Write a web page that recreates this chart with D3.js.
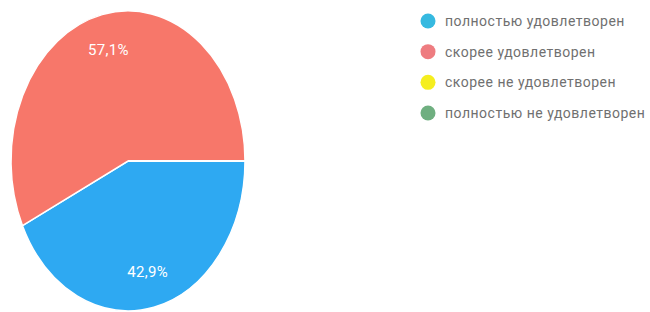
<!DOCTYPE html>
<html><head><meta charset="utf-8">
<script src="https://cdn.jsdelivr.net/npm/d3@7"></script>
<style>body{margin:0;background:#fff;}svg{display:block;}</style>
</head><body>
<svg id="c" width="650" height="312"></svg>
<script>
const categories = ["полностью удовлетворен","скорее удовлетворен","скорее не удовлетворен","полностью не удовлетворен"];
const values = [42.9, 57.1, 0, 0];
const labels = ["42,9%","57,1%","",""];
const colors = ["#2EA9F2","#F7776A","#F5EE1F","#6FAF80"];
const legendColors = ["#36B9E0","#EE7C80","#F5EE1F","#6FAF80"];

const svg = d3.select("#c");
const cx = 128, cy = 161, rx = 117, ry = 150;
const pie = d3.pie().sort(null).startAngle(Math.PI/2).endAngle(Math.PI/2 + 2*Math.PI)(values);
const arc = d3.arc().innerRadius(0).outerRadius(1);
const g = svg.append("g").attr("transform", `translate(${cx},${cy})`);
g.selectAll("path").data(pie).enter().append("path")
  .attr("d", arc)
  .attr("transform", `scale(${rx},${ry})`)
  .attr("fill", (d,i) => colors[i])
  .attr("stroke", "#fff").attr("stroke-width", 1.5).attr("vector-effect","non-scaling-stroke");
const lab = d3.arc().innerRadius(0.76).outerRadius(0.76);
g.selectAll("text").data(pie).enter().append("text")
  .attr("x", d => lab.centroid(d)[0]*rx)
  .attr("y", d => lab.centroid(d)[1]*ry)
  .attr("text-anchor","middle").attr("dominant-baseline","central")
  .attr("fill","#fff").attr("font-family","Roboto, Arial, sans-serif").attr("font-size",15)
  .attr("letter-spacing", 0.3)
  .text((d,i) => labels[i]);

const y = d3.scalePoint().domain(categories).range([21, 113]);
const lg = svg.append("g");
const row = lg.selectAll("g").data(categories).enter().append("g")
  .attr("transform", d => `translate(428,${y(d)})`);
row.append("circle").attr("r", 7.5).attr("fill", (d,i) => legendColors[i]);
row.append("text").attr("x", 17).attr("dominant-baseline","central")
  .attr("fill","#707070").attr("font-family","Roboto, Arial, sans-serif").attr("font-size",14)
  .attr("letter-spacing", 0.5)
  .text(d => d);
</script>
</body></html>
